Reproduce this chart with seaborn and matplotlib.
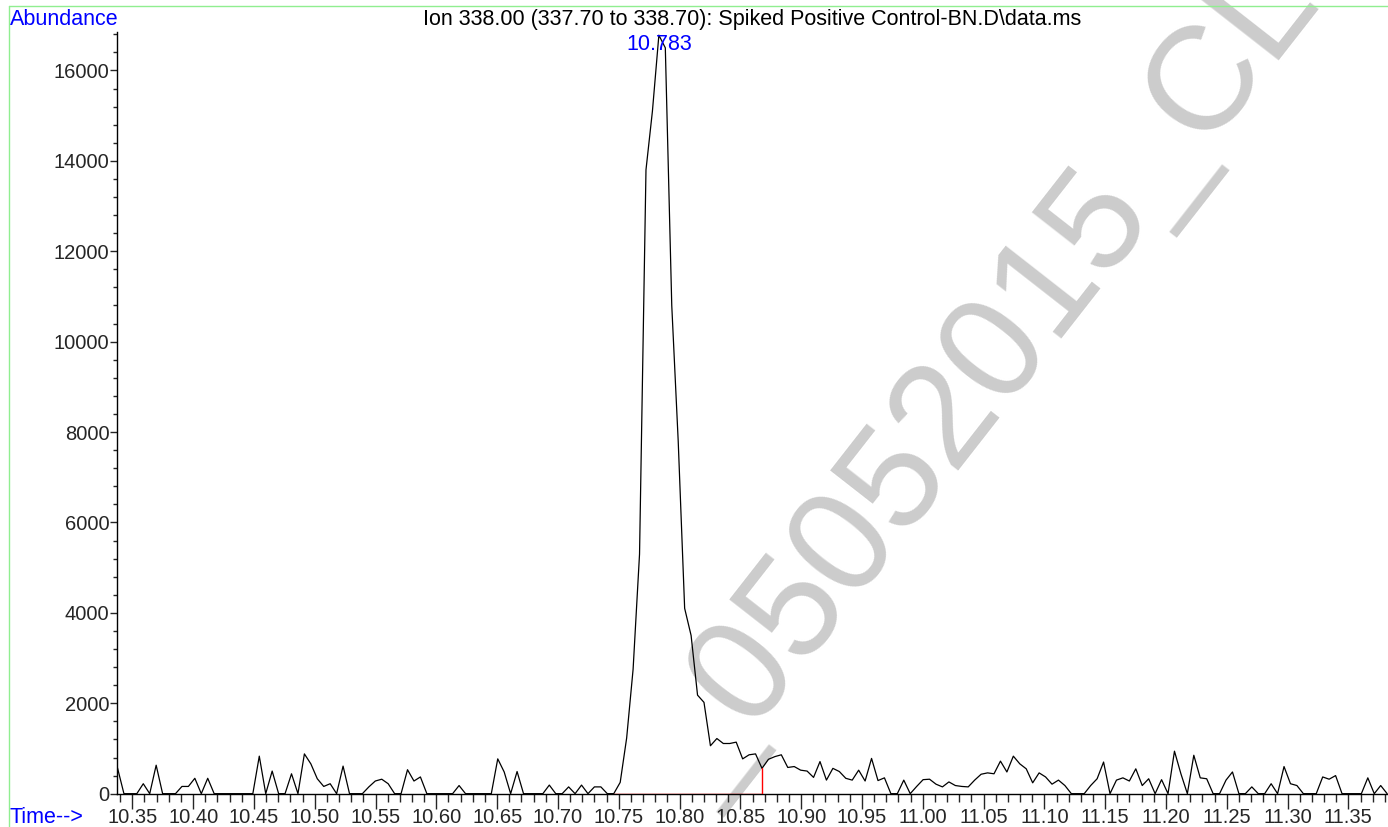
import numpy as np
import pandas as pd
import matplotlib
matplotlib.use('Agg')
import matplotlib.pyplot as plt
import seaborn as sns
from matplotlib.ticker import MultipleLocator, FormatStrFormatter
from matplotlib.lines import Line2D

# scan grid (min)
scan_start = 10.3378
scan_step = 0.0053

# extracted ion abundance, one value per scan
abundance = [
    570, 0, 0, 0, 220, 0, 630, 0, 0, 0,
    160, 160, 340, 0, 340, 0, 0, 0, 0, 0,
    0, 0, 830, 0, 500, 0, 0, 440, 0, 880,
    660, 330, 160, 220, 0, 610, 0, 0, 0, 150,
    280, 320, 220, 0, 0, 530, 280, 370, 0, 0,
    0, 0, 0, 180, 0, 0, 0, 0, 0, 770,
    480, 0, 490, 0, 0, 0, 0, 190, 0, 0,
    150, 0, 190, 0, 150, 150, 0, 0, 250, 1230,
    2750, 5300, 13800, 15100, 16780, 16500, 10800, 7800, 4100, 3500,
    2180, 2020, 1060, 1220, 1110, 1110, 1140, 770, 860, 880,
    560, 760, 820, 860, 580, 600, 520, 500, 360, 710,
    300, 560, 490, 340, 300, 520, 280, 780, 290, 350,
    0, 0, 300, 0, 160, 310, 320, 210, 150, 260,
    180, 160, 150, 300, 430, 460, 440, 720, 480, 830,
    660, 550, 240, 460, 370, 210, 300, 180, 0, 0,
    0, 180, 330, 700, 0, 300, 350, 280, 550, 180,
    330, 0, 310, 0, 940, 440, 0, 850, 350, 330,
    0, 0, 300, 480, 0, 0, 150, 0, 0, 220,
    0, 600, 220, 180, 0, 0, 0, 370, 320, 400,
    0, 0, 0, 0, 350, 0, 180, 0,
]

apex_idx = 84
peak_start_idx = 77
peak_end_idx = 100

title = 'Ion 338.00 (337.70 to 338.70): Spiked Positive Control-BN.D\\data.ms'
watermark = '_05052015_CL'

times = scan_start + scan_step * np.arange(len(abundance))
df = pd.DataFrame({'time': times, 'abundance': abundance})

sns.set_style('ticks')
plt.rcParams['font.family'] = ['Liberation Sans', 'DejaVu Sans']
fs = 14.5
fs_text = 15.5

fig = plt.figure(figsize=(13.88, 8.27), dpi=100)
ax = fig.add_axes([0.0843, 0.0403, 0.9157, 0.9210])

sns.lineplot(data=df, x='time', y='abundance', color='black', linewidth=0.9, ax=ax, zorder=3)

# integration baseline
t0, t1 = times[peak_start_idx], times[peak_end_idx]
ax.plot([t0, t1, t1], [0, 0, abundance[peak_end_idx]], color='red', linewidth=1, zorder=4)

ax.annotate(f'{times[apex_idx]:.3f}', xy=(times[apex_idx], abundance[apex_idx]),
            xytext=(0, -6.5), textcoords='offset points', ha='center', va='center',
            color='blue', fontsize=fs_text, zorder=5)

ax.set_xlim(10.3374, 11.3826)
ax.set_ylim(0, 16850)
ax.xaxis.set_major_locator(MultipleLocator(0.05))
ax.xaxis.set_minor_locator(MultipleLocator(0.01))
ax.xaxis.set_major_formatter(FormatStrFormatter('%.2f'))
ax.yaxis.set_major_locator(MultipleLocator(2000))
ax.yaxis.set_minor_locator(MultipleLocator(400))
ax.tick_params(axis='x', which='major', length=11, width=1, pad=-0.5, labelsize=fs, direction='out')
ax.tick_params(axis='x', which='minor', length=5.5, width=1, direction='out')
ax.tick_params(axis='y', which='major', length=5, width=1, pad=0.5, labelsize=fs, direction='out')
ax.tick_params(axis='y', which='minor', length=3, width=1, direction='out')
ax.set_xlabel('')
ax.set_ylabel('')
for s in ['top', 'right']:
    ax.spines[s].set_visible(False)
for s in ['left', 'bottom']:
    ax.spines[s].set_color('black')
    ax.spines[s].set_linewidth(1)
ax.patch.set_alpha(0)

# watermark
ax.text(0.5065, 0.033, watermark, transform=fig.transFigure, rotation=52,
        rotation_mode='anchor', ha='left', va='baseline', fontsize=106,
        color='#cccccc', zorder=0, clip_on=False)

fig.text(0.0072, 0.9765, 'Abundance', color='blue', fontsize=fs_text, ha='left', va='center')
fig.text(0.0072, 0.0115, 'Time-->', color='blue', fontsize=fs_text, ha='left', va='center')
fig.text(0.5421, 0.9765, title, color='black', fontsize=fs_text, ha='center', va='center')

# green frame
fig.add_artist(Line2D([0.0065, 0.0065], [0, 0.9927], transform=fig.transFigure, color='#90ee90', lw=1))
fig.add_artist(Line2D([0.0065, 1], [0.9927, 0.9927], transform=fig.transFigure, color='#90ee90', lw=1))

fig.savefig('out.png', dpi=100)
